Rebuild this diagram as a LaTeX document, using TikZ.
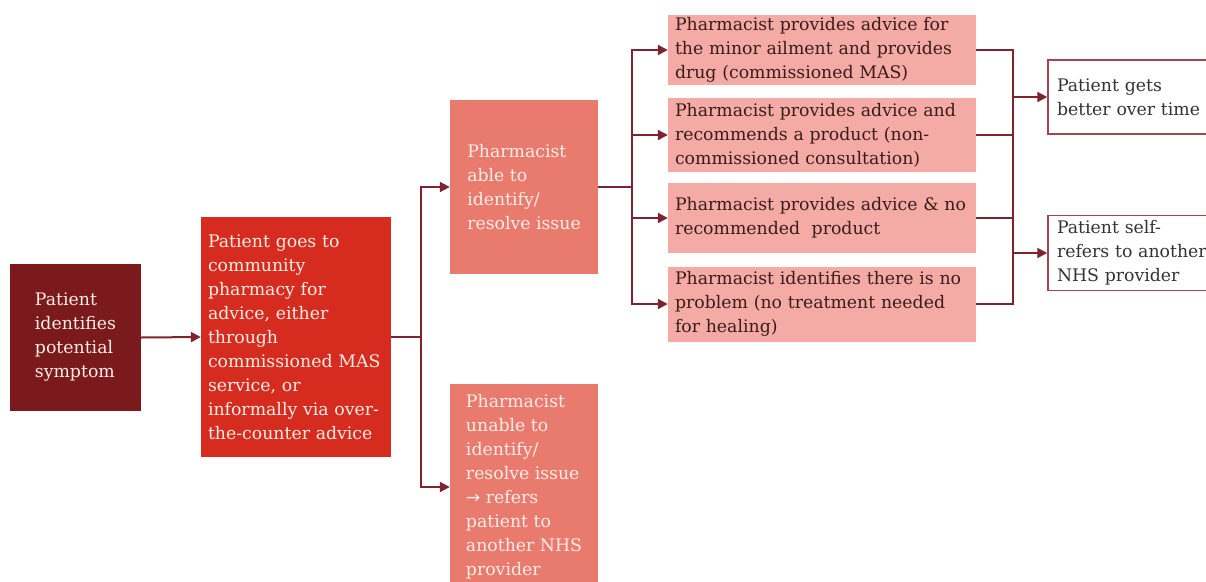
\documentclass[tikz,border=0pt]{standalone}
\usepackage{fontspec}
\setmainfont{DejaVu Serif}
\usetikzlibrary{arrows.meta}
\definecolor{cA}{HTML}{7B1A1C}
\definecolor{cB}{HTML}{D52C1F}
\definecolor{cC}{HTML}{E97A6E}
\definecolor{cD}{HTML}{F4ABA5}
\definecolor{tLight}{HTML}{FBEDE6}
\definecolor{tDark}{HTML}{3A1C1C}
\definecolor{tGrey}{HTML}{333333}
\definecolor{lineC}{HTML}{7E2330}
\definecolor{oBorder}{HTML}{A34451}
\begin{document}
\begin{tikzpicture}[x=1pt,y=-1pt,
  box/.style={rectangle, inner sep=0pt, font=\fontsize{17.3}{24}\selectfont, align=left},
  conn/.style={draw=lineC, line width=2pt},
  arr/.style={conn, -{Triangle[length=10pt,width=10pt]}}]
\useasboundingbox (0,0) rectangle (1206,581);
\clip (0,0) rectangle (1206,581);

\node[box, fill=cA, text=tLight, minimum width=131pt, minimum height=147pt] (b1) at (75.5,337.5)
  {Patient\\identifies\\potential\\symptom};
\node[box, fill=cB, text=tLight, minimum width=190pt, minimum height=240pt, text width=176pt] (b2) at (296,337)
  {Patient goes to\\community\\pharmacy for\\advice, either\\through\\commissioned MAS\\service, or\\informally via over-\\the-counter advice};
\node[box, fill=cC, text=tLight, minimum width=148pt, minimum height=174pt] (b3) at (524,187)
  {Pharmacist\\able to\\identify/\\resolve issue};
\node[box, fill=cC, text=tLight, minimum width=148pt, minimum height=206pt] (b4) at (524,487)
  {Pharmacist\\unable to\\identify/\\resolve issue\\{\fontspec{DejaVu Sans}→} refers\\patient to\\another NHS\\provider};

\node[box, fill=cD, text=tDark, minimum width=308pt, minimum height=70pt, text width=294pt] (b5) at (822,50)
  {Pharmacist provides advice for\\the minor ailment and provides\\drug (commissioned MAS)};
\node[box, fill=cD, text=tDark, minimum width=308pt, minimum height=74pt, text width=294pt] (b6) at (822,135)
  {Pharmacist provides advice and\\recommends a product (non-\\commissioned consultation)};
\node[box, fill=cD, text=tDark, minimum width=308pt, minimum height=70pt, text width=294pt] (b7) at (822,218)
  {Pharmacist provides advice \& no\\recommended\ \ product};
\node[box, fill=cD, text=tDark, minimum width=308pt, minimum height=75pt, text width=294pt] (b8) at (822,304)
  {Pharmacist identifies there is no\\problem (no treatment needed\\for healing)};

\node[box, fill=white, draw=oBorder, line width=1.5pt, text=tGrey, minimum width=180pt, minimum height=74pt, text width=162pt] (o1) at (1138,97)
  {Patient gets\\better over time};
\node[box, fill=white, draw=oBorder, line width=1.5pt, text=tGrey, minimum width=180pt, minimum height=75pt, text width=162pt] (o2) at (1138,253)
  {Patient self-\\refers to another\\NHS provider};

\coordinate (j1) at (421,337);
\coordinate (j2) at (632,187);
\coordinate (j3) at (1013,175);

\draw[arr] (b1.east) -- (b2.west);
\draw[conn] (b2.east) -- (j1);
\draw[arr] (j1) |- (b3.west);
\draw[arr] (j1) |- (b4.west);

\draw[conn] (b3.east) -- (j2);
\draw[arr] (j2) |- (b5.west);
\draw[arr] (j2) |- (b6.west);
\draw[arr] (j2) |- (b7.west);
\draw[arr] (j2) |- (b8.west);

\draw[conn] (b5.east) -| (j3);
\draw[conn] (b6.east) -| (j3);
\draw[conn] (b7.east) -| (j3);
\draw[conn] (b8.east) -| (j3);
\draw[arr] (j3) |- (o1.west);
\draw[arr] (j3) |- (o2.west);
\end{tikzpicture}
\end{document}
